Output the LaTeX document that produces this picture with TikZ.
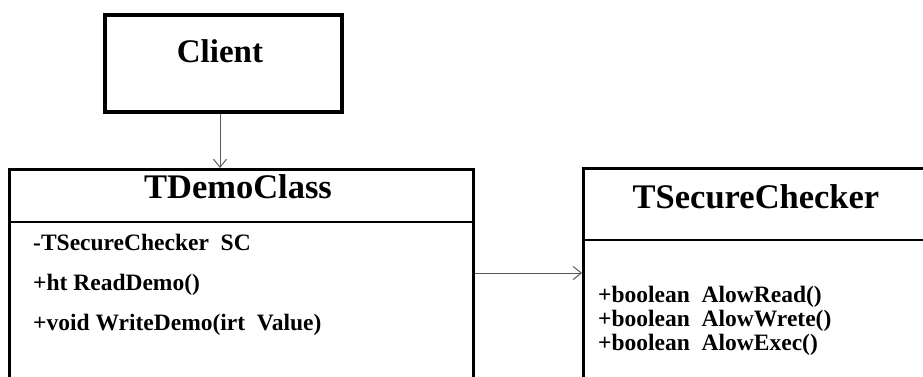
\documentclass[tikz,border=0pt]{standalone}
\usepackage{fontspec}
\setmainfont{Liberation Serif}
\usetikzlibrary{arrows.meta}
\begin{document}
\begin{tikzpicture}[x=1pt,y=-1pt,
  box/.style={draw=black, rectangle, inner sep=0, anchor=north west},
  divider/.style={draw=black, line width=2pt},
  conn/.style={draw=black!65, line width=1pt, -{Straight Barb[length=8pt,width=13pt,line width=1pt]}},
  title/.style={inner sep=0, anchor=base, font=\bfseries\fontsize{34.5}{40}\selectfont},
  member/.style={inner sep=0, anchor=base west, font=\bfseries\fontsize{23.5}{26}\selectfont}]
\useasboundingbox (0,0) rectangle (923,376);
\clip (0,0) rectangle (923,376);
\fill[white] (0,0) rectangle (923,376);
% boxes
\node[box, line width=3.5pt, minimum width=237pt, minimum height=97pt] (client) at (103,13) {};
\node[box, line width=3pt, minimum width=464pt, minimum height=240pt] (demo) at (8,168) {};
\node[box, line width=3pt, minimum width=360pt, minimum height=240pt] (checker) at (582,167) {};
% dividers
\draw[divider] (demo.west |- 0,222) -- (demo.east |- 0,222);
\draw[divider] (checker.west |- 0,240) -- (checker.east |- 0,240);
% titles
\node[title, font=\bfseries\fontsize{33}{40}\selectfont] (clientt) at (220,62) {Client};
\node[title] (demot) at (238,198) {TDemoClass};
\node[title] (checkert) at (756,208) {TSecureChecker};
% members
\node[member] (m1) at (33,250) {-TSecureChecker\ \ SC};
\node[member] (m2) at (33,290) {+ht ReadDemo()};
\node[member] (m3) at (33,330) {+void WriteDemo(irt\ \ Value)};
\node[member] (c1) at (598,302) {+boolean\ \ AlowRead()};
\node[member] (c2) at (598,326) {+boolean\ \ AlowWrete()};
\node[member] (c3) at (598,350) {+boolean\ \ AlowExec()};
% connectors
\draw[conn] (client.south -| 220,0) -- (demo.north -| 220,0);
\draw[conn] (demo.east |- 0,273) -- (checker.west |- 0,273);
\end{tikzpicture}
\end{document}
